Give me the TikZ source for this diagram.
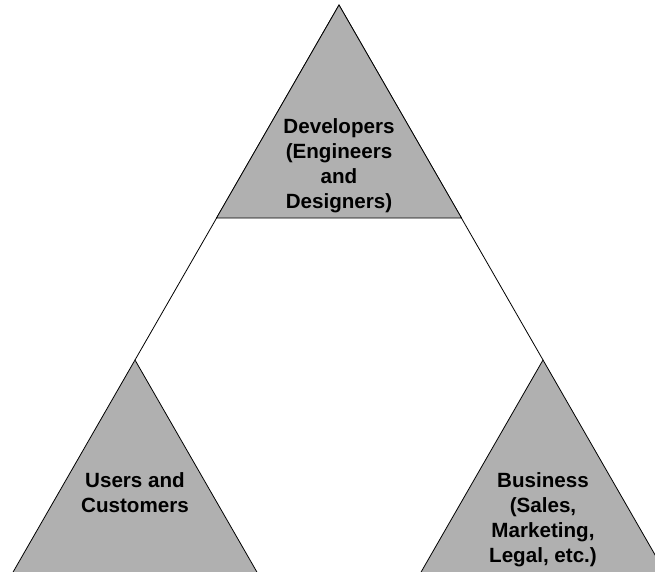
\documentclass[tikz,border=0pt]{standalone}
\usepackage{fontspec}
\setmainfont{Liberation Sans}
\usetikzlibrary{positioning}
\tikzset{
  corner/.style={fill=black!31, draw=black, line width=0.8pt, line join=round},
  side/.style={draw=black, line width=0.8pt},
  label text/.style={align=center, font=\bfseries\fontsize{20.6}{25}\selectfont},
}
\begin{document}
\begin{tikzpicture}[x=1pt,y=-1pt]
      \useasboundingbox (0,0) rectangle (655,572);
      \clip (0,0) rectangle (655,572);
      \coordinate (apex) at (339,5);
      \coordinate (users) at (135,360);
      \coordinate (business) at (543,360);
      % sides of the big triangle
      \draw[side] (users) -- (apex) -- (business);
      % the three corners
      \draw[corner] (apex) -- ++(-122.5,213) -- ++(245,0) -- cycle;
      \draw[corner] (users) -- ++(-138,240) -- ++(276,0) -- cycle;
      \draw[corner] (business) -- ++(-138,240) -- ++(276,0) -- cycle;
      \node[label text] (dev) at (339,166) {Developers\\(Engineers\\and\\Designers)};
      \node[label text] (cust) at (135,493) {Users and\\Customers};
      \node[label text] (biz) at (543,520) {Business\\(Sales,\\Marketing,\\Legal, etc.)};
    \end{tikzpicture}
\end{document}
